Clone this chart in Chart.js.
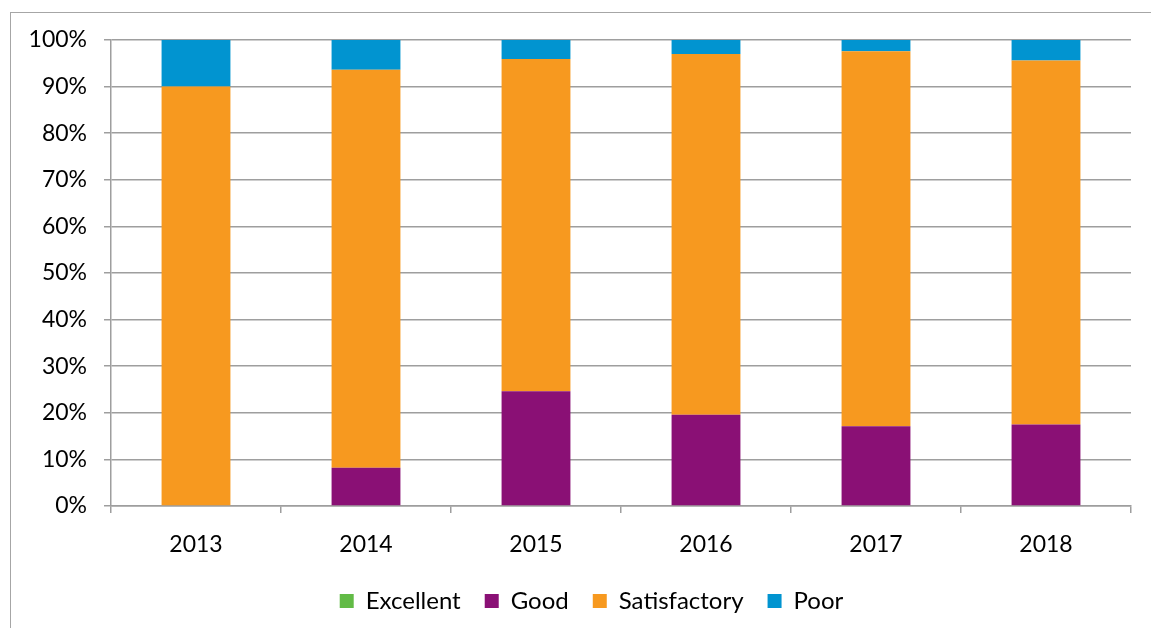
<!DOCTYPE html>
<html>
<head>
<meta charset="utf-8">
<script src="https://cdn.jsdelivr.net/npm/chart.js@4"></script>
<style>
    html, body { margin: 0; padding: 0; background: #fff; overflow: hidden; }
    #frame {
        position: absolute; left: 10px; top: 12px;
        width: 1300px; height: 800px;
        border: 1.5px solid #a6a6a6;
    }
    #wrap { position: absolute; left: 0; top: 0; width: 1151px; height: 628px; }
</style>
</head>
<body>
<div id="frame"></div>
<div id="wrap"><canvas id="chart-ratings"></canvas></div>
<script>
// Share of ratings per year, in percent
const years = ['2013', '2014', '2015', '2016', '2017', '2018'];
const excellent = [0, 0, 0, 0, 0, 0];
const good = [0, 8.2, 24.6, 19.6, 17.1, 17.5];
const satisfactory = [90, 85.4, 71.3, 77.4, 80.5, 78.1];
const poor = [10, 6.4, 4.1, 3.0, 2.4, 4.4];
const yTicks = [0, 10, 20, 30, 40, 50, 60, 70, 80, 90, 100];

const colors = {
    excellent: '#62bb46',
    good: '#8a1075',
    satisfactory: '#f7991f',
    poor: '#0194d0'
};

const gridColor = '#9e9e9e';
const fontFamily = 'Lato, "Open Sans", sans-serif';

function makeSet(label, data, color) {
    return {
        label: label,
        data: data,
        backgroundColor: color,
        borderWidth: 0,
        barPercentage: 0.405,
        categoryPercentage: 1.0
    };
}

// nudge the legend a bit to the right of the canvas centre
const legendShift = {
    id: 'legendShift',
    afterLayout(chart) {
        const lg = chart.legend;
        if (!lg) return;
        lg.left += 26;
        lg.right += 26;
    }
};

const ctx = document.getElementById('chart-ratings').getContext('2d');

new Chart(ctx, {
    type: 'bar',
    data: {
        labels: years,
        datasets: [
            makeSet('Excellent', excellent, colors.excellent),
            makeSet('Good', good, colors.good),
            makeSet('Satisfactory', satisfactory, colors.satisfactory),
            makeSet('Poor', poor, colors.poor)
        ]
    },
    options: {
        responsive: true,
        maintainAspectRatio: false,
        animation: false,
        layout: { padding: { left: 0, right: 20, top: 40, bottom: 5 } },
        plugins: {
            legend: {
                position: 'bottom',
                labels: {
                    font: { family: fontFamily, size: 24 },
                    color: '#000',
                    boxWidth: 14,
                    boxHeight: 14,
                    padding: 24
                }
            },
            tooltip: { enabled: false }
        },
        scales: {
            x: {
                stacked: true,
                grid: {
                    offset: true,
                    drawOnChartArea: false,
                    drawTicks: true,
                    tickLength: 7,
                    color: gridColor,
                    lineWidth: 1.5
                },
                border: { color: gridColor, width: 1.5 },
                ticks: {
                    font: { family: fontFamily, size: 23 },
                    color: '#000',
                    padding: 18
                },
                afterFit: (scale) => { scale.height = 59; }
            },
            y: {
                stacked: true,
                min: 0,
                max: 100,
                afterBuildTicks: (scale) => {
                    scale.ticks = yTicks.map(v => ({ value: v }));
                },
                grid: {
                    color: gridColor,
                    lineWidth: 1.5,
                    drawTicks: true,
                    tickLength: 7
                },
                border: { color: gridColor, width: 1.5 },
                ticks: {
                    font: { family: fontFamily, size: 23 },
                    color: '#000',
                    padding: 17,
                    callback: (v) => v + '%'
                },
                afterFit: (scale) => { scale.width = 111; }
            }
        }
    },
    plugins: [legendShift]
});
</script>
</body>
</html>
